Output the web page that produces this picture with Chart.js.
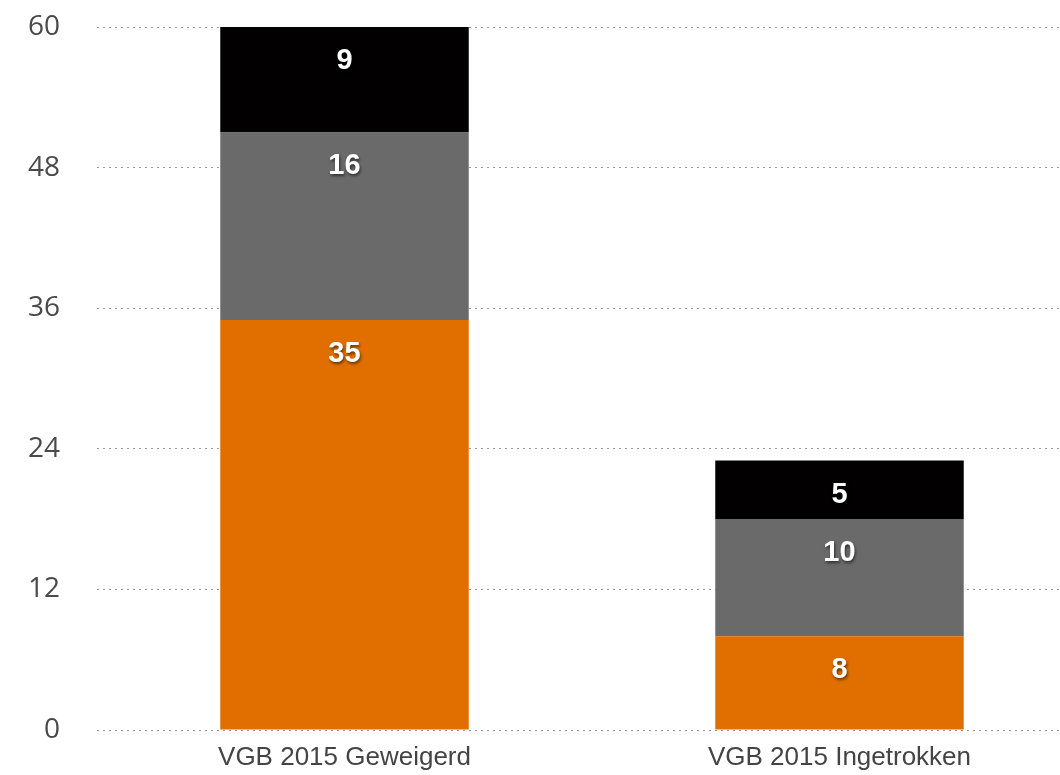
<!DOCTYPE html>
<html>
<head>
<meta charset="utf-8">
<script src="https://cdn.jsdelivr.net/npm/chart.js@4/dist/chart.umd.min.js"></script>
<style>
  body { margin: 0; background: #fff; overflow: hidden; }
  #wrap { width: 1060px; height: 775px; overflow: hidden; }
</style>
</head>
<body>
<div id="wrap"><canvas id="myChart" width="1087" height="775"></canvas></div>
<script>
var categories = ['VGB 2015 Geweigerd', 'VGB 2015 Ingetrokken'];
var orangeValues = [35, 8];
var greyValues = [16, 10];
var blackValues = [9, 5];
var yTicks = [0, 12, 24, 36, 48, 60];

// white value labels near the top of each segment
var segmentLabels = {
    id: 'segmentLabels',
    afterDatasetsDraw: function (chart) {
        var ctx = chart.ctx;
        ctx.save();
        ctx.font = 'bold 29px "Liberation Sans", Arial, sans-serif';
        ctx.fillStyle = '#ffffff';
        ctx.textAlign = 'center';
        ctx.textBaseline = 'middle';
        ctx.shadowColor = 'rgba(0,0,0,0.55)';
        ctx.shadowBlur = 3;
        ctx.shadowOffsetX = 1;
        ctx.shadowOffsetY = 2;
        chart.data.datasets.forEach(function (ds, i) {
            var meta = chart.getDatasetMeta(i);
            meta.data.forEach(function (bar, j) {
                ctx.fillText(String(ds.data[j]), bar.x, bar.y + 34);
            });
        });
        ctx.restore();
    }
};

var ctx = document.getElementById('myChart').getContext('2d');
var chart = new Chart(ctx, {
    type: 'bar',
    data: {
        labels: categories,
        datasets: [
            { label: 'oranje', data: orangeValues, backgroundColor: '#e06f00' },
            { label: 'grijs', data: greyValues, backgroundColor: '#6a6a6a' },
            { label: 'zwart', data: blackValues, backgroundColor: '#020000' }
        ]
    },
    options: {
        responsive: false,
        animation: false,
        layout: { padding: { top: 27, right: 0, bottom: 0, left: 0 } },
        plugins: { legend: { display: false }, tooltip: { enabled: false } },
        datasets: { bar: { categoryPercentage: 1, barPercentage: 0.502 } },
        scales: {
            x: {
                stacked: true,
                grid: { display: false, drawTicks: false },
                border: { display: false },
                ticks: {
                    color: '#444',
                    font: { family: '"Liberation Sans", Arial, sans-serif', size: 26 },
                    padding: 12
                },
                afterFit: function (axis) {
                    axis.height = 45;
                }
            },
            y: {
                stacked: true,
                min: 0,
                max: 60,
                afterBuildTicks: function (axis) {
                    axis.ticks = yTicks.map(function (v) { return { value: v }; });
                },
                afterFit: function (axis) {
                    axis.width = 97;
                    axis.paddingTop = 0;
                    axis.paddingBottom = 0;
                },
                grid: { color: '#9a9a9a', lineWidth: 1, drawTicks: false },
                border: { display: false, dash: [2, 4] },
                ticks: {
                    color: '#4a4a4a',
                    font: { family: '"Open Sans", sans-serif', size: 28 },
                    padding: 37
                }
            }
        }
    },
    plugins: [segmentLabels]
});
</script>
</body>
</html>
